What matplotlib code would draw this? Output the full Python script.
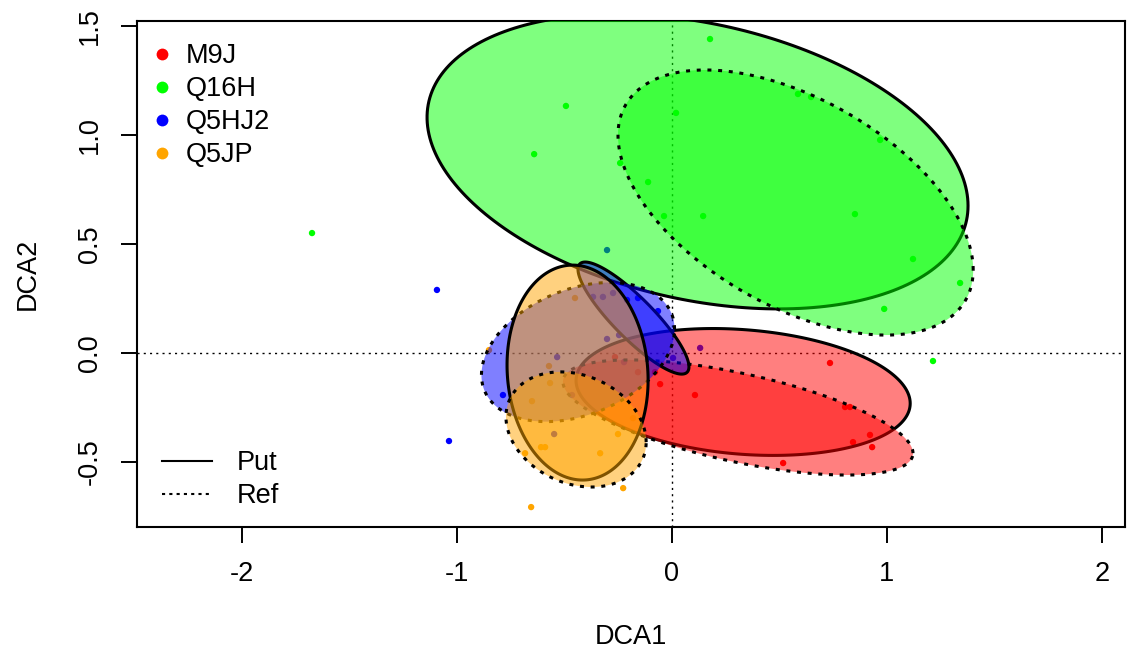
import numpy as np
import matplotlib
matplotlib.use("Agg")
import matplotlib.pyplot as plt
from matplotlib.lines import Line2D
from matplotlib.colors import to_rgba

plt.rcParams['font.family'] = ['Liberation Sans', 'DejaVu Sans']

# groups and colours
groups = ["M9J", "Q16H", "Q5HJ2", "Q5JP"]
colors = ["#FF0000", "#00FF00", "#0000FF", "#FFA500"]

# site scores (DCA1, DCA2) per group
m9j_x = [0.736, 0.806, 0.829, 0.922, 0.843, 0.932, 0.518, 0.108, -0.054, -0.078, -0.157, -0.264]
m9j_y = [-0.047, -0.249, -0.249, -0.377, -0.410, -0.433, -0.506, -0.194, -0.144, -0.089, -0.089, -0.020]
q16h_x = [-1.673, -0.492, -0.640, 0.178, 0.020, -0.240, -0.110, -0.036, 0.146, 0.969, 0.852, 1.122,
          1.341, 0.988, 1.215, 0.587, 0.648]
q16h_y = [0.549, 1.132, 0.911, 1.439, 1.100, 0.870, 0.783, 0.627, 0.627, 0.976, 0.636, 0.430,
          0.320, 0.201, -0.038, 1.187, 1.173]
q5hj2_x = [-1.092, -1.036, -0.301, -0.785, -0.157, -0.064, -0.366, -0.320, -0.273, -0.208, -0.301,
           -0.533, -0.245, -0.222, 0.006, 0.132, -0.547, -0.464]
q5hj2_y = [0.288, -0.405, 0.471, -0.194, 0.251, 0.191, 0.256, 0.256, 0.274, 0.242, 0.063,
           -0.020, 0.081, -0.043, -0.024, 0.022, -0.373, -0.194]
q5jp_x = [-0.654, -0.226, -0.450, -0.571, -0.566, -0.650, -0.608, -0.589, -0.333, -0.250, -0.682,
          -0.850, -0.180]
q5jp_y = [-0.708, -0.621, 0.251, -0.061, -0.139, -0.222, -0.433, -0.433, -0.461, -0.373, -0.461,
          0.012, -0.300]

pts_x = [m9j_x, q16h_x, q5hj2_x, q5jp_x]
pts_y = [m9j_y, q16h_y, q5hj2_y, q5jp_y]

# ellipses: centre, half extent in x and y, correlation  (Put = solid, Ref = dotted)
put_cx = [0.332, 0.120, -0.178, -0.438]
put_cy = [-0.180, 0.877, 0.159, -0.091]
put_sx = [0.777, 1.258, 0.258, 0.328]
put_sy = [0.291, 0.676, 0.257, 0.493]
put_r = [-0.18, -0.30, -0.87, -0.07]

ref_cx = [0.308, 0.576, -0.436, -0.445]
ref_cy = [-0.297, 0.689, 0.003, -0.352]
ref_sx = [0.814, 0.826, 0.449, 0.326]
ref_sy = [0.264, 0.608, 0.319, 0.264]
ref_r = [-0.62, -0.509, 0.33, -0.22]


def ellipse_xy(cx, cy, sx, sy, r, n=240):
    t = np.linspace(0, 2 * np.pi, n)
    x = cx + sx * np.cos(t)
    y = cy + sy * (r * np.cos(t) + np.sqrt(1 - r ** 2) * np.sin(t))
    return x, y


fig = plt.figure(figsize=(11.27, 6.58), dpi=100)
ax = fig.add_axes([137 / 1127, 1 - 526.7 / 658, 988 / 1127, 506.2 / 658])

fs = 19.5
dotted = (0, (1.3, 2.2))

# zero lines
ax.axhline(0, color="black", lw=1.0, linestyle=(0, (1.5, 3)), zorder=1)
ax.axvline(0, color="black", lw=1.0, linestyle=(0, (1.5, 3)), zorder=1)

# points
for i in range(len(groups)):
    ax.scatter(pts_x[i], pts_y[i], s=21, color=colors[i], edgecolors="none", zorder=2)

# ellipses
z = 3
for i in range(len(groups)):
    x, y = ellipse_xy(put_cx[i], put_cy[i], put_sx[i], put_sy[i], put_r[i])
    ax.fill(x, y, facecolor=to_rgba(colors[i], 0.5), edgecolor="black", lw=2.2, zorder=z)
    z += 1
    x, y = ellipse_xy(ref_cx[i], ref_cy[i], ref_sx[i], ref_sy[i], ref_r[i])
    ax.fill(x, y, facecolor=to_rgba(colors[i], 0.5), edgecolor="black", lw=2.2,
            linestyle=dotted, zorder=z)
    z += 1

ax.set_xlim(-2.487, 2.108)
ax.set_ylim(-0.798, 1.524)
ax.set_xticks([-2, -1, 0, 1, 2])
ax.set_xticklabels(["-2", "-1", "0", "1", "2"])
ax.set_yticks([-0.5, 0.0, 0.5, 1.0, 1.5])
ax.set_yticklabels(["-0.5", "0.0", "0.5", "1.0", "1.5"], rotation=90, va="center")
ax.tick_params(axis="both", direction="out", length=11.5, width=1.4, labelsize=fs, pad=13)
for sp in ax.spines.values():
    sp.set_linewidth(1.5)
ax.set_xlabel("DCA1", fontsize=fs, labelpad=27)
ax.set_ylabel("DCA2", fontsize=fs, labelpad=26)

# legends
h1 = [Line2D([], [], marker="o", linestyle="none", markersize=8.5, color=c, markeredgewidth=0)
      for c in colors]
leg1 = ax.legend(h1, groups, loc="upper left", bbox_to_anchor=(0.0116, 0.955), frameon=False,
                 fontsize=fs, borderpad=0, borderaxespad=0, handlelength=1.0,
                 handletextpad=0.385, labelspacing=0.26)
ax.add_artist(leg1)
h2 = [Line2D([], [], color="black", lw=1.5),
      Line2D([], [], color="black", lw=1.5, linestyle=(0, (1.5, 2)))]
ax.legend(h2, ["Put", "Ref"], loc="lower left", bbox_to_anchor=(0.0253, 0.034), frameon=False,
          fontsize=fs, borderpad=0, borderaxespad=0, handlelength=1.845,
          handletextpad=0.91, labelspacing=0.26)

fig.savefig("out.png", dpi=100)
plt.close(fig)
